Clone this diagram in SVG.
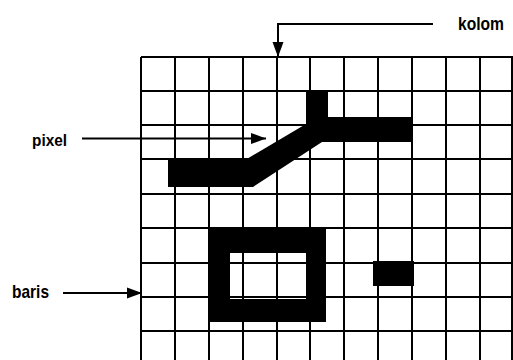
<svg xmlns="http://www.w3.org/2000/svg" width="513" height="360" viewBox="0 0 513 360">
<style>
.g{stroke:#000;stroke-width:2;fill:none}
.fill{fill:#000}
.lbl{font-family:"Liberation Sans",Arial,sans-serif;font-weight:bold;fill:#000}
.c{stroke:#000;stroke-width:2;fill:none}
</style>
<defs>
<marker id="ah" markerWidth="16" markerHeight="12" refX="15" refY="6" orient="auto" markerUnits="userSpaceOnUse">
<path d="M0,0.5 L15,6 L0,11.5 Z" fill="#000"/>
</marker>
</defs>
<rect width="513" height="360" fill="#fff"/>
<g id="grid" class="g">
<path d="M141,57V360M175,57V360M209,57V360M243,57V360M277,57V360M310,57V360M344,57V360M378,57V360M412,57V360M446,57V360M480,57V360M512,57V360"/>
<path d="M141,57H513M141,91H513M141,125H513M141,159H513M141,194H513M141,228H513M141,263H513M141,297H513M141,331H513"/>
</g>
<g id="line-shape">
<polygon class="fill" points="168,160 245,160 306,124 306,90 328,90 328,117 413,117 413,142 322,142 253,187 168,187"/>
</g>
<g id="rect-shape">
<path class="fill" fill-rule="evenodd" d="M208,228H326V322H208Z M230,253V299H306V253Z"/>
</g>
<g id="dot-shape">
<rect class="fill" x="373" y="261" width="41" height="25"/>
</g>
<g id="label-kolom"><text class="lbl" x="458" y="30" font-size="18.5" textLength="46" lengthAdjust="spacingAndGlyphs">kolom</text></g>
<g id="label-pixel"><text class="lbl" x="32" y="146" font-size="17" textLength="35" lengthAdjust="spacingAndGlyphs">pixel</text></g>
<g id="label-baris"><text class="lbl" x="12" y="298" font-size="19" textLength="37" lengthAdjust="spacingAndGlyphs">baris</text></g>
<g id="connectors">
<path class="c" d="M433,24H278V57" marker-end="url(#ah)"/>
<path class="c" d="M82,138.5H266" marker-end="url(#ah)"/>
<path class="c" d="M63,293H142" marker-end="url(#ah)"/>
</g>
</svg>
